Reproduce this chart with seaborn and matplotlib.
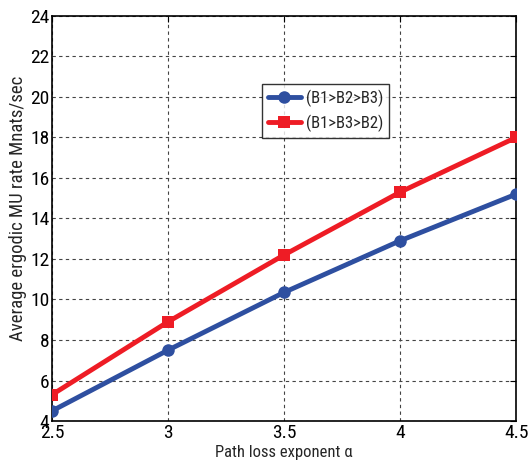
import matplotlib
matplotlib.use("Agg")
import matplotlib.pyplot as plt
import seaborn as sns
import pandas as pd

alpha = [2.5, 3.0, 3.5, 4.0, 4.5]
rate_b1b2b3 = [4.5, 7.5, 10.35, 12.9, 15.2]
rate_b1b3b2 = [5.3, 8.9, 12.2, 15.3, 18.0]
series_names = ["(B1>B2>B3)", "(B1>B3>B2)"]
xticks = [2.5, 3, 3.5, 4, 4.5]
xticklabels = ["2.5", "3", "3.5", "4", "4.5"]
yticks = list(range(4, 25, 2))

df = pd.DataFrame({
    "alpha": alpha * 2,
    "rate": rate_b1b2b3 + rate_b1b3b2,
    "scheme": [series_names[0]] * len(alpha) + [series_names[1]] * len(alpha),
})

sns.set_style("white")
plt.rcParams['font.family'] = ['Roboto Condensed', 'DejaVu Sans']

fig = plt.figure(figsize=(5.31, 4.68), dpi=100)
ax = fig.add_axes([0.098, 0.1004, 0.874, 0.8656])

colors = {series_names[0]: "#2E4FA0", series_names[1]: "#EE1C25"}
markers = {series_names[0]: "o", series_names[1]: "s"}
sns.lineplot(data=df, x="alpha", y="rate", hue="scheme", style="scheme",
             palette=colors, markers=markers, dashes=False, linewidth=3.5,
             markersize=9, markeredgewidth=0, ax=ax, legend=True, zorder=3)

ax.set_xlim(2.5, 4.5)
ax.set_ylim(4, 24)
ax.set_xticks(xticks)
ax.set_xticklabels(xticklabels)
ax.set_yticks(yticks)
ax.grid(True, color="#444444", linestyle=(0, (3, 3)), linewidth=0.8)
ax.tick_params(direction="in", length=4, labelsize=14, colors="black", pad=2)
ax.tick_params(top=True, right=True)
for s in ax.spines.values():
    s.set_color("black")
    s.set_linewidth(1.2)

ax.set_xlabel("Path loss exponent \u03b1", fontsize=12, labelpad=2)
ax.set_ylabel("Average ergodic MU rate Mnats/sec", fontsize=13.5, labelpad=4)
ax.yaxis.set_label_coords(-0.054, 0.525)

leg = ax.legend(loc="upper left", bbox_to_anchor=(0.452, 0.832), fontsize=12,
                frameon=True, fancybox=False, edgecolor="black", handlelength=2.0,
                borderpad=0.35, labelspacing=0.45, handletextpad=0.3, borderaxespad=0)
leg.get_frame().set_linewidth(1.0)

fig.savefig("out.png", dpi=100)
